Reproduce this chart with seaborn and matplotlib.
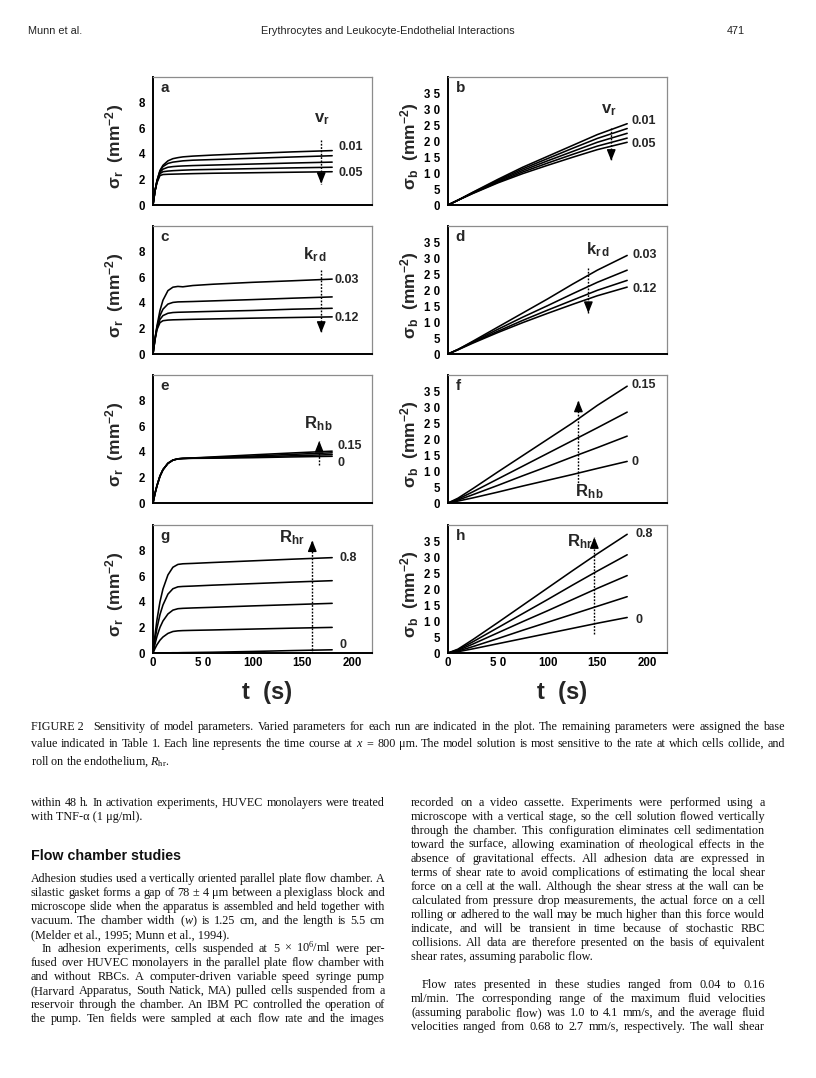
import numpy as np
import pandas as pd
import matplotlib
matplotlib.use("Agg")
import matplotlib.pyplot as plt
import seaborn as sns

sns.set_theme(style="white")
plt.rcParams["font.family"] = ["Liberation Sans", "DejaVu Sans"]
plt.rcParams["mathtext.fontset"] = "custom"
plt.rcParams["mathtext.rm"] = "Liberation Serif"
plt.rcParams["mathtext.it"] = "Liberation Serif:italic"
plt.rcParams["mathtext.bf"] = "Liberation Sans:bold"

# ---------------- data ----------------
t_rise = [0, 2, 4, 7, 10, 15, 20, 25, 30, 40, 60, 100, 140, 180]
t_lin = [0, 10, 25, 50, 75, 100, 125, 150, 180]

# panel a: sigma_r, v_r = 0.01 ... 0.05
a_v001 = [0, 1.1, 1.9, 2.7, 3.1, 3.45, 3.62, 3.7, 3.76, 3.82, 3.9, 4.03, 4.15, 4.25]
a_v002 = [0, 1.1, 1.9, 2.65, 3.0, 3.25, 3.35, 3.4, 3.45, 3.5, 3.55, 3.65, 3.75, 3.85]
a_v003 = [0, 1.1, 1.85, 2.55, 2.8, 2.95, 3.0, 3.03, 3.05, 3.08, 3.12, 3.2, 3.28, 3.35]
a_v004 = [0, 1.1, 1.8, 2.45, 2.6, 2.65, 2.68, 2.7, 2.72, 2.75, 2.78, 2.84, 2.9, 2.95]
a_v005 = [0, 1.1, 1.75, 2.3, 2.38, 2.4, 2.41, 2.42, 2.43, 2.45, 2.48, 2.52, 2.56, 2.6]

# panel b: sigma_b, v_r
b_v001 = [0, 1.5, 4.0, 8.0, 11.8, 15.2, 18.6, 22.0, 25.4]
b_v002 = [0, 1.5, 3.9, 7.7, 11.3, 14.5, 17.7, 20.8, 23.9]
b_v003 = [0, 1.5, 3.8, 7.4, 10.8, 13.8, 16.7, 19.6, 22.4]
b_v004 = [0, 1.5, 3.7, 7.1, 10.3, 13.1, 15.8, 18.4, 20.9]
b_v005 = [0, 1.5, 3.6, 6.9, 9.8, 12.4, 14.9, 17.3, 19.6]

# panel c: sigma_r, k_rd = 0.03 ... 0.12
c_k003 = [0, 1.2, 2.2, 3.4, 4.2, 4.95, 5.22, 5.28, 5.25, 5.35, 5.45, 5.6, 5.72, 5.85]
c_k006 = [0, 1.2, 2.1, 3.0, 3.5, 3.9, 4.03, 4.07, 4.08, 4.1, 4.15, 4.25, 4.36, 4.46]
c_k009 = [0, 1.15, 2.0, 2.7, 3.0, 3.18, 3.24, 3.26, 3.27, 3.29, 3.33, 3.4, 3.5, 3.57]
c_k012 = [0, 1.1, 1.9, 2.45, 2.6, 2.65, 2.67, 2.68, 2.69, 2.71, 2.74, 2.8, 2.85, 2.9]

# panel d: sigma_b, k_rd
d_k003 = [0, 1.4, 4.0, 8.4, 12.8, 17.2, 21.8, 26.2, 30.8]
d_k006 = [0, 1.4, 3.8, 7.7, 11.5, 15.1, 18.8, 22.4, 26.2]
d_k009 = [0, 1.4, 3.6, 7.1, 10.5, 13.7, 16.8, 19.9, 23.0]
d_k012 = [0, 1.3, 3.4, 6.7, 9.8, 12.7, 15.5, 18.2, 20.9]

# panel e: sigma_r, R_hb = 0 ... 0.15
e_r015 = [0, 0.75, 1.35, 2.1, 2.6, 3.1, 3.35, 3.45, 3.48, 3.52, 3.6, 3.76, 3.91, 4.05]
e_r010 = [0, 0.75, 1.35, 2.1, 2.6, 3.1, 3.35, 3.45, 3.48, 3.51, 3.56, 3.67, 3.8, 3.92]
e_r005 = [0, 0.75, 1.35, 2.1, 2.6, 3.1, 3.35, 3.45, 3.48, 3.5, 3.53, 3.6, 3.69, 3.78]
e_r000 = [0, 0.75, 1.35, 2.1, 2.6, 3.1, 3.35, 3.45, 3.48, 3.49, 3.5, 3.54, 3.6, 3.65]

# panel f: sigma_b, R_hb
f_r015 = [0, 1.5, 4.5, 9.7, 14.8, 19.9, 25.0, 30.5, 36.5]
f_r010 = [0, 1.2, 3.5, 7.5, 11.5, 15.5, 19.5, 23.5, 28.4]
f_r005 = [0, 0.9, 2.6, 5.5, 8.5, 11.4, 14.4, 17.3, 20.9]
f_r000 = [0, 0.6, 1.6, 3.4, 5.3, 7.1, 8.9, 10.8, 13.0]

# panel g: sigma_r, R_hr = 0 ... 0.8
g_r08 = [0, 1.4, 2.6, 4.0, 5.0, 6.1, 6.7, 6.92, 6.97, 7.0, 7.07, 7.2, 7.33, 7.45]
g_r06 = [0, 1.05, 1.95, 3.0, 3.75, 4.6, 5.02, 5.17, 5.2, 5.23, 5.3, 5.42, 5.54, 5.65]
g_r04 = [0, 0.7, 1.3, 2.0, 2.5, 3.05, 3.35, 3.46, 3.49, 3.52, 3.57, 3.68, 3.78, 3.88]
g_r02 = [0, 0.35, 0.65, 1.0, 1.25, 1.53, 1.68, 1.73, 1.75, 1.77, 1.8, 1.87, 1.94, 2.0]
g_r00 = [0, 0, 0, 0, 0.01, 0.01, 0.02, 0.02, 0.03, 0.04, 0.06, 0.12, 0.19, 0.25]

# panel h: sigma_b, R_hr
h_r08 = [0, 1.2, 4.2, 9.5, 14.9, 20.3, 25.7, 31.0, 37.1]
h_r06 = [0, 1.0, 3.5, 7.9, 12.3, 16.7, 21.2, 25.6, 30.7]
h_r04 = [0, 0.8, 2.8, 6.3, 9.8, 13.2, 16.7, 20.2, 24.2]
h_r02 = [0, 0.6, 2.0, 4.5, 7.1, 9.6, 12.1, 14.6, 17.6]
h_r00 = [0, 0.4, 1.3, 2.9, 4.5, 6.1, 7.7, 9.3, 11.1]

x_ticks = [0, 50, 100, 150, 200]
x_ticklabels = ["0", "5 0", "100", "150", "200"]
yr_ticks = [0, 2, 4, 6, 8]
yr_ticklabels = ["0", "2", "4", "6", "8"]
yb_ticks = [0, 5, 10, 15, 20, 25, 30, 35]
yb_ticklabels = ["0", "5", "1 0", "1 5", "2 0", "2 5", "3 0", "3 5"]

# ---------------- figure ----------------
W, H = 816, 1078
fig = plt.figure(figsize=(W / 100, H / 100), dpi=100)

col_x = [153, 448]
row_bottom = [205, 354, 503, 653]
AX_W, AX_H = 219, 128

lab_r = r"$\mathbf{\sigma_r}$  $\mathbf{(mm^{-2})}$"
lab_b = r"$\mathbf{\sigma_b}$  $\mathbf{(mm^{-2})}$"

panels = [
    dict(letter="a", col=0, row=0, t=t_rise, series=[a_v001, a_v002, a_v003, a_v004, a_v005],
         kind="r", arrow=(169, 5.1, 1.65), plabel=(r"$\mathbf{v_r}$", 170, 6.7),
         ends=[("0.01", 186, 4.55), ("0.05", 186, 2.5)]),
    dict(letter="b", col=1, row=0, t=t_lin, series=[b_v001, b_v002, b_v003, b_v004, b_v005],
         kind="b", arrow=(164, 24.2, 13.8), plabel=(r"$\mathbf{v_r}$", 162, 29.5),
         ends=[("0.01", 184, 26.4), ("0.05", 184, 19.2)]),
    dict(letter="c", col=0, row=1, t=t_rise, series=[c_k003, c_k006, c_k009, c_k012],
         kind="r", arrow=(169, 6.6, 1.65), plabel=(r"$\mathbf{k_{r\,d}}$", 163, 7.8),
         ends=[("0.03", 182, 5.8), ("0.12", 182, 2.85)]),
    dict(letter="d", col=1, row=1, t=t_lin, series=[d_k003, d_k006, d_k009, d_k012],
         kind="b", arrow=(141, 26.8, 12.8), plabel=(r"$\mathbf{k_{r\,d}}$", 151, 32.7),
         ends=[("0.03", 185, 30.8), ("0.12", 185, 20.4)]),
    dict(letter="e", col=0, row=2, t=t_rise, series=[e_r015, e_r010, e_r005, e_r000],
         kind="r", arrow=(167, 3.0, 4.85), plabel=(r"$\mathbf{R_{h\,b}}$", 166, 6.2),
         ends=[("0.15", 185, 4.45), ("0", 185, 3.15)]),
    dict(letter="f", col=1, row=2, t=t_lin, series=[f_r015, f_r010, f_r005, f_r000],
         kind="b", arrow=(131, 5.3, 32.0), plabel=(r"$\mathbf{R_{h\,b}}$", 142, 3.4),
         ends=[("0.15", 184, 36.8), ("0", 184, 12.7)]),
    dict(letter="g", col=0, row=3, t=t_rise, series=[g_r08, g_r06, g_r04, g_r02, g_r00],
         kind="r", arrow=(160, 0.0, 8.8), plabel=(r"$\mathbf{R_{hr}}$", 139, 9.0),
         ends=[("0.8", 187, 7.45), ("0", 187, 0.6)]),
    dict(letter="h", col=1, row=3, t=t_lin, series=[h_r08, h_r06, h_r04, h_r02, h_r00],
         kind="b", arrow=(147, 6.0, 36.2), plabel=(r"$\mathbf{R_{hr}}$", 132, 34.7),
         ends=[("0.8", 188, 37.1), ("0", 188, 10.4)]),
]

for p in panels:
    x0 = col_x[p["col"]]
    yb = row_bottom[p["row"]]
    ax = fig.add_axes([x0 / W, 1 - yb / H, AX_W / W, AX_H / H])
    n = len(p["series"])
    t = p["t"]
    df = pd.DataFrame({
        "t": np.tile(t, n),
        "val": np.concatenate([np.asarray(s, float) for s in p["series"]]),
        "run": np.repeat([f"s{i}" for i in range(n)], len(t)),
    })
    sns.lineplot(data=df, x="t", y="val", hue="run", palette=["black"] * n,
                 legend=False, ax=ax, lw=1.15, estimator=None, sort=False)
    ax.set_xlim(0, 220)
    if p["kind"] == "r":
        ax.set_ylim(0, 10)
        ax.set_yticks(yr_ticks)
        ax.set_yticklabels(yr_ticklabels, fontsize=8.3, fontweight="bold")
        ax.set_ylabel(lab_r, fontsize=12.5, fontweight="bold")
    else:
        ax.set_ylim(0, 40)
        ax.set_yticks(yb_ticks)
        ax.set_yticklabels(yb_ticklabels, fontsize=8.3, fontweight="bold")
        ax.set_ylabel(lab_b, fontsize=12.5, fontweight="bold")
    ax.yaxis.set_label_coords(-0.125, 0.46)
    ax.set_xticks(x_ticks)
    if p["row"] == 3:
        ax.set_xticklabels(x_ticklabels, fontsize=8.3, fontweight="bold")
        ax.text(0.52, -0.31, "t  (s)", transform=ax.transAxes, ha="center", va="center",
                fontsize=17, fontweight="bold")
    else:
        ax.set_xticklabels([])
    ax.set_xlabel("")
    ax.tick_params(axis="y", direction="out", length=4, width=1.2, pad=1.5, colors="black")
    ax.tick_params(axis="x", direction="in", length=4, width=1.0, pad=3, colors="black")
    for s in ["left", "bottom"]:
        ax.spines[s].set_color("black")
        ax.spines[s].set_linewidth(1.4)
    for s in ["top", "right"]:
        ax.spines[s].set_color("#8c8c8c")
        ax.spines[s].set_linewidth(0.9)
    ax.grid(False)
    ax.set_facecolor("white")

    ax.text(0.035, 0.915, p["letter"], transform=ax.transAxes, ha="left", va="center",
            fontsize=11, fontweight="bold")
    ax_x, y0, y1 = p["arrow"]
    span = ax.get_ylim()[1]
    ax.plot([ax_x, ax_x], [y0, y1], ls=(0, (1.3, 1.1)), color="black", lw=1.0)
    d = 0.07 * span * (1 if y1 > y0 else -1)
    ax.annotate("", xy=(ax_x, y1), xytext=(ax_x, y1 - d),
                arrowprops=dict(arrowstyle="-|>,head_length=0.55,head_width=0.22",
                                color="black", lw=1.0, shrinkA=0, shrinkB=0))
    lab, lx, ly = p["plabel"]
    ax.text(lx, ly, lab, ha="center", va="center", fontsize=12)
    for txt, ex, ey in p["ends"]:
        ax.text(ex, ey, txt, ha="left", va="center", fontsize=9, fontweight="bold",
                clip_on=False)

# ---------------- page text ----------------
renderer = fig.canvas.get_renderer()


def put_line(x0, x1, y, s, justify=True, **kw):
    """Place a text line with baseline at pixel y; optionally justify to [x0, x1]."""
    kw.setdefault("va", "baseline")
    kw.setdefault("ha", "left")
    if not justify:
        fig.text(x0 / W, 1 - y / H, s.replace("~", " "), **kw)
        return
    words = s.split(" ")
    fs = kw.pop("fontsize")
    while True:
        ts = [fig.text(0, 0, w.replace("~", " "), fontsize=fs, **kw) for w in words]
        ws = [tt.get_window_extent(renderer).width for tt in ts]
        gap = (x1 - x0 - sum(ws)) / max(len(words) - 1, 1)
        if gap >= 0.2 * fs * 1.389 or fs < 6:
            break
        for tt in ts:
            tt.remove()
        fs -= 0.15
    x = x0
    for tt, w in zip(ts, ws):
        tt.set_position((x / W, 1 - y / H))
        x += w + gap


hdr = dict(family="Liberation Sans", fontsize=7.8, color="#222222")
fig.text(28 / W, 1 - 34 / H, "Munn et al.", va="baseline", ha="left", **hdr)
fig.text(388 / W, 1 - 34 / H, "Erythrocytes and Leukocyte-Endothelial Interactions",
         va="baseline", ha="center", **hdr)
fig.text(745 / W, 1 - 34 / H, "471", va="baseline", ha="right", **hdr)

cap = dict(family="Liberation Serif", fontsize=8.7, color="#111111")
put_line(31, 785, 730,
         "FIGURE~2~~ Sensitivity of model parameters. Varied parameters for each run are indicated in the plot. The remaining parameters were assigned the base",
         **cap)
put_line(31, 785, 747,
         r"value indicated in Table 1. Each line represents the time course at $\mathit{x}$ = 800 μm. The model solution is most sensitive to the rate at which cells collide, and",
         **cap)
put_line(31, 785, 765, r"roll on the endothelium, $\mathit{R}_{\mathrm{hr}}$.", justify=False, **cap)

body = dict(family="Liberation Serif", fontsize=8.8, color="#111111")
L0, L1 = 31, 385
R0, R1 = 411, 765
left_lines = [
    (806, "within 48 h. In activation experiments, HUVEC monolayers were treated", True, 0),
    (820, "with TNF-α (1 μg/ml).", False, 0),
    (882, "Adhesion studies used a vertically oriented parallel plate flow chamber. A", True, 0),
    (896, "silastic gasket forms a gap of 78 ± 4 μm between a plexiglass block and", True, 0),
    (910, "microscope slide when the apparatus is assembled and held together with", True, 0),
    (924, r"vacuum. The chamber width ($\mathit{w}$) is 1.25 cm, and the length is 5.5 cm", True, 0),
    (938, "(Melder et al., 1995; Munn et al., 1994).", False, 0),
    (952, "In adhesion experiments, cells suspended at 5 × 10$^6$/ml were per-", True, 11),
    (966, "fused over HUVEC monolayers in the parallel plate flow chamber with", True, 0),
    (980, "and without RBCs. A computer-driven variable speed syringe pump", True, 0),
    (994, "(Harvard Apparatus, South Natick, MA) pulled cells suspended from a", True, 0),
    (1008, "reservoir through the chamber. An IBM PC controlled the operation of", True, 0),
    (1022, "the pump. Ten fields were sampled at each flow rate and the images", True, 0),
]
right_lines = [
    (806, "recorded on a video cassette. Experiments were performed using a", True, 0),
    (820, "microscope with a vertical stage, so the cell solution flowed vertically", True, 0),
    (834, "through the chamber. This configuration eliminates cell sedimentation", True, 0),
    (848, "toward the surface, allowing examination of rheological effects in the", True, 0),
    (862, "absence of gravitational effects. All adhesion data are expressed in", True, 0),
    (876, "terms of shear rate to avoid complications of estimating the local shear", True, 0),
    (890, "force on a cell at the wall. Although the shear stress at the wall can be", True, 0),
    (904, "calculated from pressure drop measurements, the actual force on a cell", True, 0),
    (918, "rolling or adhered to the wall may be much higher than this force would", True, 0),
    (932, "indicate, and will be transient in time because of stochastic RBC", True, 0),
    (946, "collisions. All data are therefore presented on the basis of equivalent", True, 0),
    (960, "shear rates, assuming parabolic flow.", False, 0),
    (988, "Flow rates presented in these studies ranged from 0.04 to 0.16", True, 11),
    (1002, "ml/min. The corresponding range of the maximum fluid velocities", True, 0),
    (1016, "(assuming parabolic flow) was 1.0 to 4.1 mm/s, and the average fluid", True, 0),
    (1030, "velocities ranged from 0.68 to 2.7 mm/s, respectively. The wall shear", True, 0),
]
for y, s, j, ind in left_lines:
    put_line(L0 + ind, L1, y, s, justify=j, **body)
for y, s, j, ind in right_lines:
    put_line(R0 + ind, R1, y, s, justify=j, **body)

fig.text(31 / W, 1 - 860 / H, "Flow chamber studies", family="Liberation Sans",
         fontsize=10.3, fontweight="bold", va="baseline", ha="left", color="#111111")

fig.savefig("out.png", dpi=100, facecolor="white")
